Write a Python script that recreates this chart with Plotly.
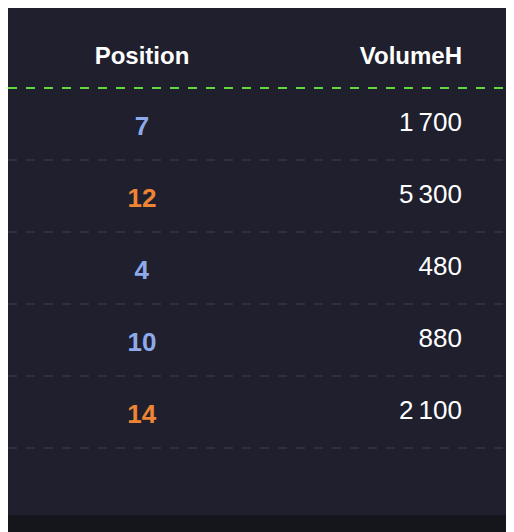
import plotly.graph_objects as go

# Data
HEADERS = ['Position', 'VolumeH', '']
POSITIONS = [7, 12, 4, 10, 14]
VOLUMES = [1700, 5300, 480, 880, 2100]
POS_COLORS = ['#8eaaea', '#ee8434', '#8eaaea', '#8eaaea', '#ee8434']

BG = '#1f1f2d'
W, H = 514, 532
OFF = 8          # page offset of the figure
LINE_Y = 88      # green header divider (screen px)
ROW_H = 72


def fmt(v):
    return f'{v:,}'.replace(',', '\u2009')


fig = go.Figure(go.Table(
    domain=dict(x=[0, 1], y=[0, 1 - (34 - OFF) / H]),
    columnwidth=[268, 194, 52],
    header=dict(
        values=[f'<b>{h}</b>' for h in HEADERS],
        align=['center', 'right', 'right'],
        fill_color=BG,
        line_color=BG,
        height=69,
        font=dict(family='Liberation Sans', size=24, color='white'),
    ),
    cells=dict(
        values=[[f'<b>{p}</b>' for p in POSITIONS], [fmt(v) for v in VOLUMES], [''] * len(VOLUMES)],
        align=['center', 'right', 'right'],
        fill_color=BG,
        line_color=BG,
        height=ROW_H,
        font=dict(family='Liberation Sans', size=26,
                  color=[POS_COLORS, ['white'] * len(VOLUMES), ['white'] * len(VOLUMES)]),
    ),
))


def py(screen_y):
    return 1 - (screen_y - OFF) / H


shapes = [dict(type='rect', xref='paper', yref='paper', x0=0, x1=1, y0=0, y1=py(515),
               fillcolor='#15151c', line_width=0, layer='below')]
shapes.append(dict(type='line', xref='paper', yref='paper', x0=0, x1=1,
                   y0=py(LINE_Y), y1=py(LINE_Y),
                   line=dict(color='#5fdc3c', width=2, dash='dash'), layer='above'))
for i in range(1, len(POSITIONS) + 1):
    y = py(LINE_Y + i * ROW_H)
    shapes.append(dict(type='line', xref='paper', yref='paper', x0=0, x1=1, y0=y, y1=y,
                       line=dict(color='#363644', width=1.5, dash='dash'), layer='above'))

fig.update_layout(
    width=W, height=H,
    margin=dict(l=0, r=0, t=0, b=0),
    paper_bgcolor=BG,
    shapes=shapes,
)

fig.write_html('out.html')
